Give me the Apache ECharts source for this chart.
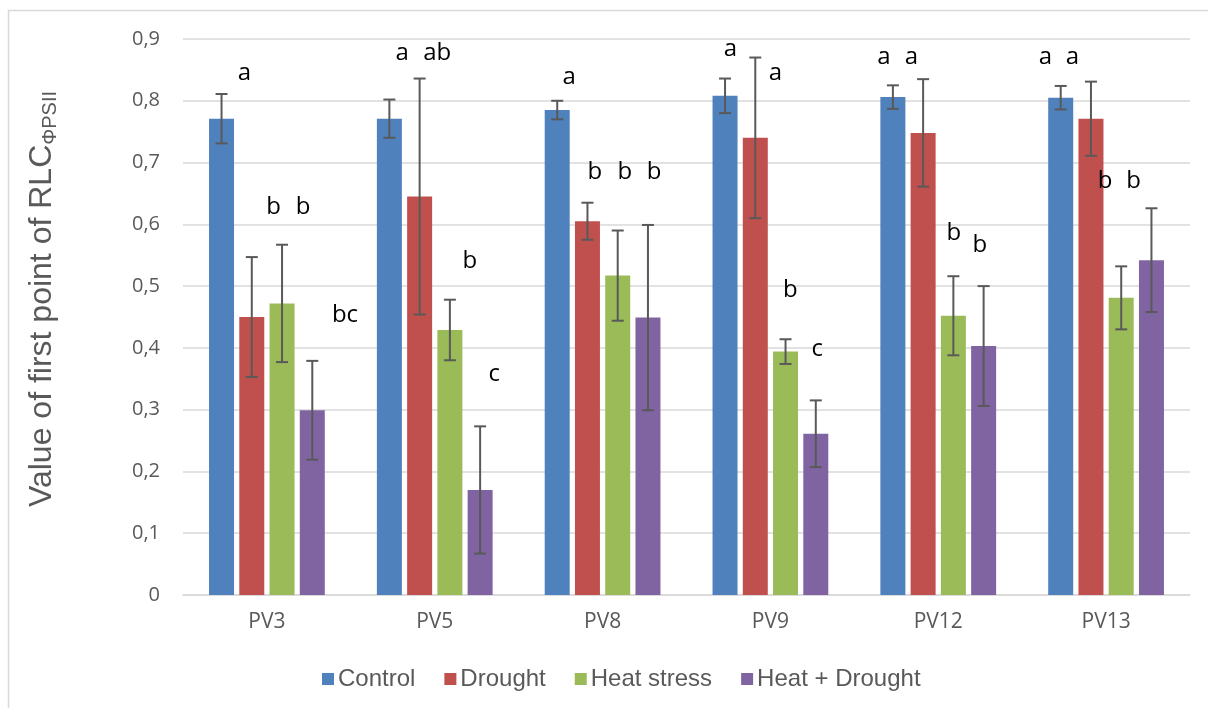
<!DOCTYPE html>
<html>
<head>
<meta charset="utf-8">
<script src="https://cdn.jsdelivr.net/npm/echarts@6/dist/echarts.min.js"></script>
<style>
html,body{margin:0;padding:0;background:#fff;}
#chart{width:1208px;height:708px;}
</style>
</head>
<body>
<div id="chart"></div>
<script>
// ---------- data ----------
const categories = ['PV3', 'PV5', 'PV8', 'PV9', 'PV12', 'PV13'];
const seriesNames = ['Control', 'Drought', 'Heat stress', 'Heat + Drought'];

const control     = [0.771, 0.771, 0.785, 0.808, 0.806, 0.805];
const drought     = [0.450, 0.645, 0.605, 0.740, 0.748, 0.771];
const heat        = [0.472, 0.429, 0.517, 0.394, 0.452, 0.481];
const heatDrought = [0.299, 0.170, 0.449, 0.261, 0.403, 0.542];

const controlErr     = [0.040, 0.031, 0.015, 0.028, 0.019, 0.019];
const droughtErr     = [0.097, 0.191, 0.030, 0.130, 0.087, 0.060];
const heatErr        = [0.095, 0.049, 0.073, 0.020, 0.064, 0.051];
const heatDroughtErr = [0.080, 0.103, 0.150, 0.054, 0.097, 0.084];

// significance letters and the value level of their baseline
const controlLetters     = ['a', 'a', 'a', 'a', 'a', 'a'];
const droughtLetters     = ['b', 'ab', 'b', 'a', 'a', 'a'];
const heatLetters        = ['b', 'b', 'b', 'b', 'b', 'b'];
const heatDroughtLetters = ['bc', 'c', 'b', 'c', 'b', 'b'];

const controlLetterY     = [0.832, 0.865, 0.826, 0.871, 0.858, 0.858];
const droughtLetterY     = [0.616, 0.865, 0.673, 0.832, 0.858, 0.858];
const heatLetterY        = [0.616, 0.528, 0.673, 0.481, 0.574, 0.658];
const heatDroughtLetterY = [0.441, 0.346, 0.673, 0.385, 0.554, 0.658];

const yTicks = [0, 0.1, 0.2, 0.3, 0.4, 0.5, 0.6, 0.7, 0.8, 0.9];

// ---------- layout (pixels) ----------
const LAYOUT = {
  barWidth: 25,
  barStep: 30.25,
  capHalf: 6,
  letterDx: [
    [-22.4, -32.6, -33.4, -40.1, -54.4, -60.6],
    [6.6, 2.4, -7.7, 4.9, -26.9, -33.6],
    [36.1, 35.1, 22.3, 19.9, 15.6, -1.1],
    [78.1, 59.4, 51.6, 46.9, 41.6, 27.4]
  ]
};
const colors = ['#4F81BD', '#C0504D', '#9BBB59', '#8064A2'];

const values = [control, drought, heat, heatDrought];
const errs = [controlErr, droughtErr, heatErr, heatDroughtErr];
const letters = [controlLetters, droughtLetters, heatLetters, heatDroughtLetters];
const letterY = [controlLetterY, droughtLetterY, heatLetterY, heatDroughtLetterY];

const series = [];
values.forEach((vals, i) => {
  series.push({
    name: seriesNames[i],
    type: 'bar',
    data: vals,
    barWidth: LAYOUT.barWidth,
    barGap: '21%',
    itemStyle: { color: colors[i] },
    silent: true,
    z: 2
  });
});
values.forEach((vals, i) => {
  const off = (i - 1.5) * LAYOUT.barStep;
  series.push({
    type: 'custom',
    silent: true,
    z: 5,
    data: vals.map((v, k) => [k, v - errs[i][k], v + errs[i][k]]),
    encode: { x: 0, y: [1, 2] },
    renderItem: function (params, api) {
      const k = api.value(0);
      const lo = api.coord([k, api.value(1)]);
      const hi = api.coord([k, api.value(2)]);
      const x = lo[0] + off;
      const st = { stroke: '#595959', lineWidth: 2 };
      return {
        type: 'group',
        children: [
          { type: 'line', shape: { x1: x, y1: lo[1], x2: x, y2: hi[1] }, style: st },
          { type: 'line', shape: { x1: x - LAYOUT.capHalf, y1: lo[1], x2: x + LAYOUT.capHalf, y2: lo[1] }, style: st },
          { type: 'line', shape: { x1: x - LAYOUT.capHalf, y1: hi[1], x2: x + LAYOUT.capHalf, y2: hi[1] }, style: st }
        ]
      };
    }
  });
});
letters.forEach((arr, i) => {
  series.push({
    type: 'custom',
    silent: true,
    z: 6,
    data: arr.map((t, k) => [k, letterY[i][k]]),
    encode: { x: 0, y: 1 },
    renderItem: function (params, api) {
      const k = api.value(0);
      const p = api.coord([k, api.value(1)]);
      return {
        type: 'text',
        x: p[0] + LAYOUT.letterDx[i][k],
        y: p[1] - 7.5,
        style: {
          text: letters[i][k],
          fill: '#000000',
          font: '24px "Open Sans"',
          align: 'center',
          verticalAlign: 'middle'
        }
      };
    }
  });
});

const chart = echarts.init(document.getElementById('chart'), null, { renderer: 'canvas' });
chart.setOption({
  backgroundColor: '#ffffff',
  animation: false,
  graphic: [{
    type: 'rect',
    shape: { x: 8.5, y: 10.5, width: 1230, height: 730 },
    style: { fill: 'none', stroke: '#d9d9d9', lineWidth: 1.5 },
    silent: true,
    z: -1
  }],
  grid: { left: 183, right: 18, top: 39, bottom: 113, containLabel: false },
  legend: {
    data: seriesNames,
    left: 317,
    top: 662,
    icon: 'rect',
    itemWidth: 12,
    itemHeight: 12,
    itemGap: 29,
    textStyle: { fontFamily: '"Liberation Sans", Arial, sans-serif', fontSize: 24, color: '#595959', padding: [0, 0, 0, -1] }
  },
  xAxis: {
    type: 'category',
    data: categories,
    axisTick: { show: false },
    axisLine: { lineStyle: { color: '#d9d9d9', width: 1.5 } },
    axisLabel: { fontFamily: '"Open Sans", sans-serif', fontSize: 21, color: '#595959', margin: 17 }
  },
  yAxis: {
    type: 'value',
    min: yTicks[0],
    max: yTicks[yTicks.length - 1],
    interval: 0.1,
    axisLine: { show: false },
    axisTick: { show: false },
    splitLine: { lineStyle: { color: '#d9d9d9', width: 1.5 } },
    axisLabel: {
      fontFamily: '"Open Sans", sans-serif', fontSize: 20, color: '#595959', margin: 23,
      formatter: v => (Math.abs(v) < 1e-9 ? '0' : v.toFixed(1).replace('.', ','))
    },
    name: '{m|Value of first point of RLC}{s|ΦPSII}',
    nameLocation: 'middle',
    nameGap: 121,
    nameRotate: 90,
    nameTextStyle: {
      padding: [0, 0, 0, 36],
      rich: {
        m: { fontFamily: '"Liberation Sans", Arial, sans-serif', fontSize: 32, color: '#595959', lineHeight: 40, verticalAlign: 'middle' },
        s: { fontFamily: '"Liberation Sans", Arial, sans-serif', fontSize: 20, color: '#595959', lineHeight: 40, verticalAlign: 'bottom', padding: [0, 0, 2, 0] }
      }
    }
  },
  series: series
});
</script>
</body>
</html>
